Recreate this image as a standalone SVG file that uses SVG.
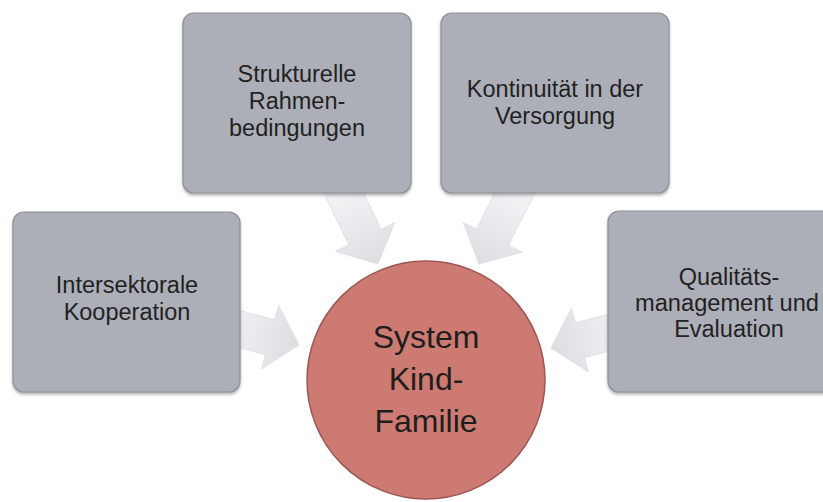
<svg xmlns="http://www.w3.org/2000/svg" width="823" height="502" viewBox="0 0 823 502">
  <defs>
    <linearGradient id="arrowGrad" x1="0" y1="0" x2="1" y2="0">
      <stop offset="0" stop-color="#f7f7f9"/>
      <stop offset="0.6" stop-color="#e8e9ec"/>
      <stop offset="1" stop-color="#dcdde1"/>
    </linearGradient>
    <filter id="shadow" x="-10%" y="-10%" width="120%" height="125%">
      <feDropShadow dx="0" dy="2" stdDeviation="1.5" flood-color="#555" flood-opacity="0.45"/>
    </filter>
    <path id="arrow" d="M0,0 L-30,-33 L-30,-18 L-100,-18 L-100,18 L-30,18 L-30,33 Z"/>
  </defs>
  <style>
    .box { fill: #adafb8; stroke: #8e9098; stroke-width: 1.2; filter: url(#shadow); }
    .arr { fill: url(#arrowGrad); stroke: #d8d9dd; stroke-width: 0.6; }
    .lbl { font-family: "Liberation Sans", Arial, sans-serif; font-size: 23.5px; fill: #222; text-anchor: middle; }
    .center-lbl { font-family: "Liberation Sans", Arial, sans-serif; font-size: 32px; fill: #1e1e1e; text-anchor: middle; }
    .circle { fill: #cc7a72; stroke: #9e5551; stroke-width: 1.5; }
  </style>
  <rect width="823" height="502" fill="#ffffff"/>

  <g id="connectors">
    <use href="#arrow" class="arr" transform="translate(378,264) rotate(64.2)"/>
    <use href="#arrow" class="arr" transform="translate(479,264) rotate(116.8)"/>
    <use href="#arrow" class="arr" transform="translate(299,345) rotate(15)"/>
    <use href="#arrow" class="arr" transform="translate(551,348) rotate(165)"/>
  </g>

  <g id="node-strukturelle">
    <rect class="box" x="183" y="13" width="228" height="180" rx="11"/>
    <text class="lbl" x="297" y="82">Strukturelle</text>
    <text class="lbl" x="297" y="109">Rahmen-</text>
    <text class="lbl" x="297" y="136">bedingungen</text>
  </g>

  <g id="node-kontinuitaet">
    <rect class="box" x="441" y="13" width="228" height="180" rx="11"/>
    <text class="lbl" x="555" y="97">Kontinuität in der</text>
    <text class="lbl" x="555" y="124">Versorgung</text>
  </g>

  <g id="node-intersektorale">
    <rect class="box" x="13" y="212" width="227" height="180" rx="11"/>
    <text class="lbl" x="127" y="293">Intersektorale</text>
    <text class="lbl" x="127" y="320">Kooperation</text>
  </g>

  <g id="node-qualitaet">
    <rect class="box" x="608" y="211" width="240" height="181" rx="11"/>
    <text class="lbl" x="729" y="285">Qualitäts-</text>
    <text class="lbl" x="727" y="311" textLength="184" lengthAdjust="spacingAndGlyphs">management und</text>
    <text class="lbl" x="729" y="337">Evaluation</text>
  </g>

  <g id="node-system">
    <circle class="circle" cx="426" cy="380" r="119"/>
    <text class="center-lbl" x="426" y="348">System</text>
    <text class="center-lbl" x="426" y="390">Kind-</text>
    <text class="center-lbl" x="426" y="432">Familie</text>
  </g>
</svg>
